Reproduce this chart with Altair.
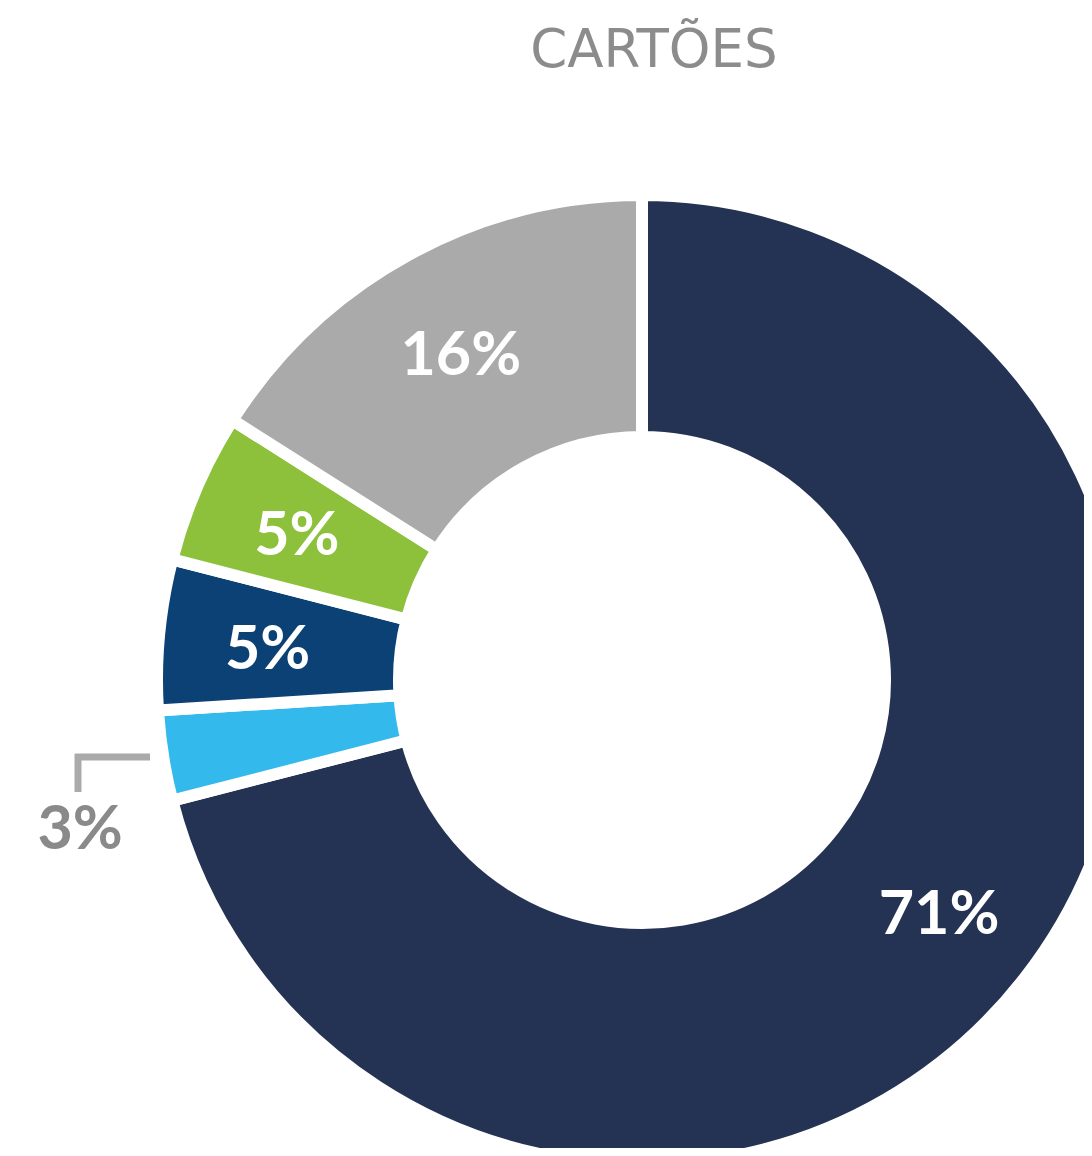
import altair as alt
import pandas as pd

labels = ["71%", "3%", "5%", "5%", "16%"]
values = [71, 3, 5, 5, 16]
colors = ["#243353", "#33b9ec", "#0b4174", "#8dc13c", "#aaaaaa"]
keys = ["a", "b", "c", "d", "e"]
title_text = "CARTÕES"

df = pd.DataFrame({"key": keys, "label": labels, "value": values, "idx": list(range(len(values)))})

CX, CY = 634, 572

base = alt.Chart(df).transform_stack(
    stack="value", groupby=[], as_=["v0", "v1"], sort=[alt.SortField("idx")]
).transform_calculate(mid="(datum.v0 + datum.v1) / 2")

theta_scale = alt.Scale(domain=[0, 100])

arcs = base.mark_arc(outerRadius=485, innerRadius=243, stroke="white", strokeWidth=12).encode(
    theta=alt.Theta("v0:Q", scale=theta_scale),
    theta2="v1:Q",
    color=alt.Color("key:N", scale=alt.Scale(domain=keys, range=colors), legend=None),
    x=alt.value(CX), y=alt.value(CY),
)

inner_labels = base.transform_filter("datum.value > 3").mark_text(
    radius=376, font="Lato", fontSize=61, fontWeight="bold", color="white",
    align="center", baseline="middle", dy=6
).encode(
    theta=alt.Theta("mid:Q", scale=theta_scale),
    text="label:N",
    x=alt.value(CX), y=alt.value(CY),
)

outer_label = base.transform_filter("datum.value <= 3").mark_text(
    radius=581, thetaOffset=-0.1, font="Lato", fontSize=61, fontWeight="bold", color="#8a8a8a",
    align="center", baseline="middle", dy=3
).encode(
    theta=alt.Theta("mid:Q", scale=theta_scale),
    text="label:N",
    x=alt.value(CX), y=alt.value(CY),
)

leader_h = base.transform_filter("datum.value <= 3").mark_rule(color="#aaaaaa", strokeWidth=7).encode(
    x=alt.value(67), x2=alt.value(142), y=alt.value(649)
)
leader_v = base.transform_filter("datum.value <= 3").mark_rule(color="#aaaaaa", strokeWidth=7).encode(
    x=alt.value(70), y=alt.value(646), y2=alt.value(684)
)

chart = alt.layer(arcs, inner_labels, outer_label, leader_h, leader_v).properties(
    width=1076, height=1040,
    autosize=alt.AutoSizeParams(type="none"),
    padding={"left": 0, "top": 100, "right": 0, "bottom": 0},
    title=alt.TitleParams(
        title_text, fontSize=53, color="#8c8c8c", font="DejaVu Sans", fontWeight="normal",
        anchor="middle", frame="group", baseline="alphabetic", offset=40, dx=108, dy=52,
    ),
).configure_view(stroke=None)

chart.save("out.html", embed_options={"renderer": "svg", "actions": False})
